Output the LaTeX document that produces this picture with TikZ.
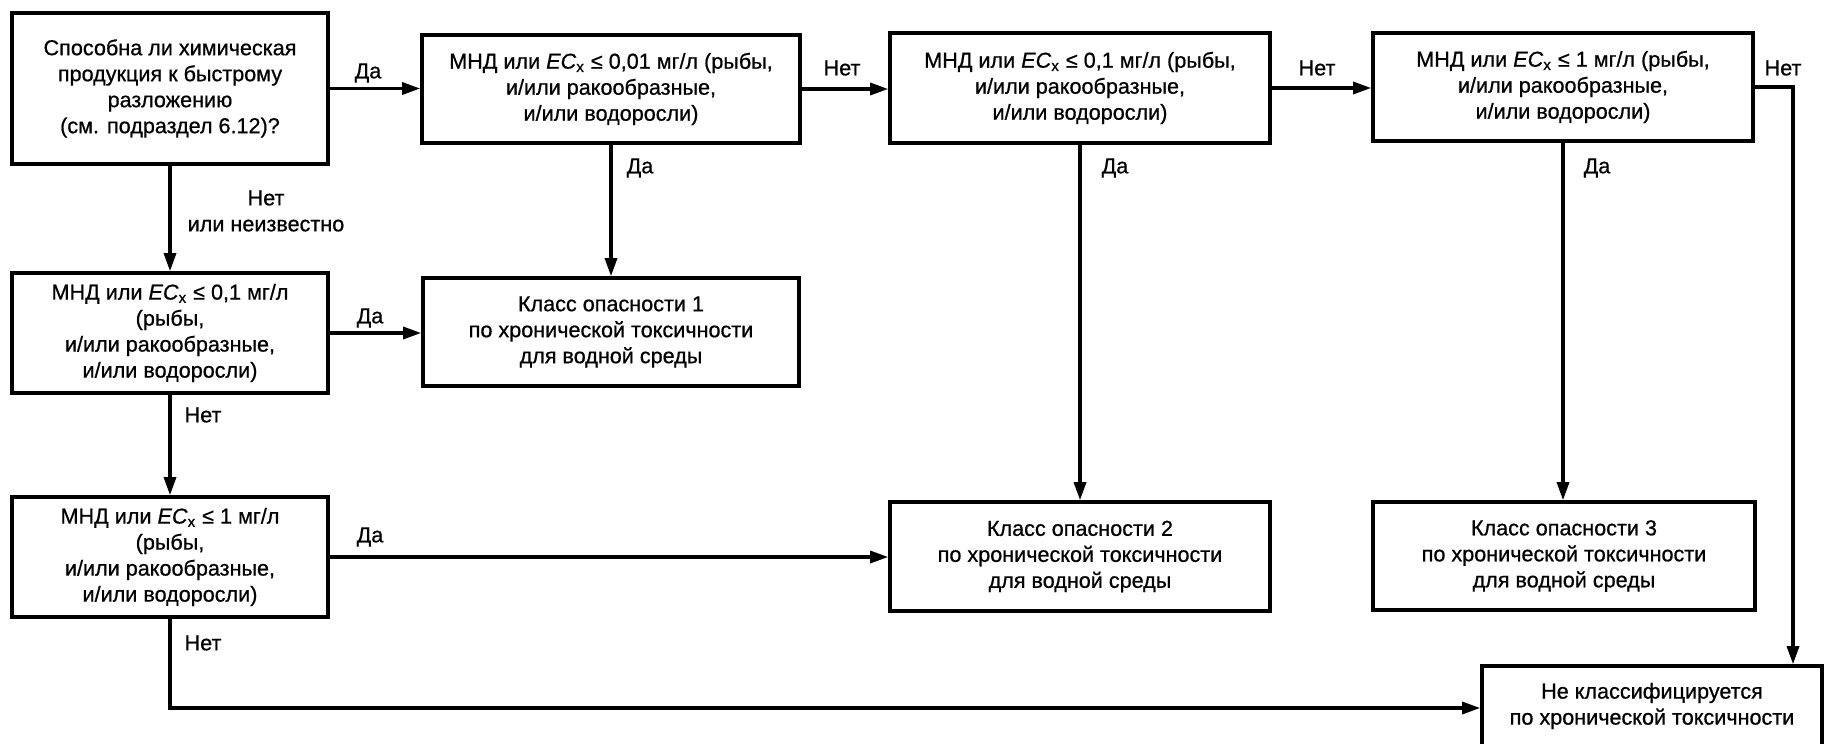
\documentclass[tikz,border=0pt]{standalone}
\usepackage{fontspec}
\setmainfont{Liberation Sans}[
  BoldFont=Liberation Sans, BoldFeatures={FakeBold=0.7},
  BoldItalicFont=Liberation Sans Italic, BoldItalicFeatures={FakeBold=0.7}]
\usetikzlibrary{arrows.meta}

% shorthand for EC with subscript x
\newcommand{\ECx}{\textit{EC}\textsubscript{x}}

\begin{document}
\begin{tikzpicture}[x=0.5pt,y=-0.5pt,
  every node/.style={font=\fontsize{10.8pt}{13pt}\selectfont\bfseries, inner sep=0pt},
  box/.style={draw, line width=1.8pt, align=center},
  lbl/.style={align=center},
  arr/.style={line width=1.6pt, -{Triangle[length=9pt,width=6pt]}},
  ln/.style={line width=1.6pt}]
\useasboundingbox (0,0) rectangle (1827,744);

% decision and result boxes
\node[box, minimum width=158pt, minimum height=75.5pt] (A) at (170,88.5)
  {Способна ли химическая\\продукция к быстрому\\разложению\\(см. подраздел 6.12)?};
\node[box, minimum width=189pt, minimum height=54pt] (B) at (611,89)
  {МНД или \ECx{} ≤ 0,01 мг/л (рыбы,\\и/или ракообразные,\\и/или водоросли)};
\node[box, minimum width=190pt, minimum height=55pt] (C) at (1080,88)
  {МНД или \ECx{} ≤ 0,1 мг/л (рыбы,\\и/или ракообразные,\\и/или водоросли)};
\node[box, minimum width=190pt, minimum height=54pt] (D) at (1563,87)
  {МНД или \ECx{} ≤ 1 мг/л (рыбы,\\и/или ракообразные,\\и/или водоросли)};
\node[box, minimum width=158pt, minimum height=60pt] (E) at (170,333)
  {МНД или \ECx{} ≤ 0,1 мг/л\\(рыбы,\\и/или ракообразные,\\и/или водоросли)};
\node[box, minimum width=188pt, minimum height=54pt] (F) at (611,332)
  {Класс опасности 1\\по хронической токсичности\\для водной среды};
\node[box, minimum width=158pt, minimum height=60pt] (G) at (170,557)
  {МНД или \ECx{} ≤ 1 мг/л\\(рыбы,\\и/или ракообразные,\\и/или водоросли)};
\node[box, minimum width=190pt, minimum height=54.5pt] (K2) at (1080,556.5)
  {Класс опасности 2\\по хронической токсичности\\для водной среды};
\node[box, minimum width=191pt, minimum height=54pt] (K3) at (1564,556)
  {Класс опасности 3\\по хронической токсичности\\для водной среды};
\node[box, minimum width=170pt, minimum height=62pt] (H) at (1652,728) {};
\node[lbl] (Htext) at (1652,706)
  {Не классифицируется\\по хронической токсичности};

% turning points of the bent connectors
\coordinate (dturn) at (1793,87);
\coordinate (gturn) at (170,708);

% connectors
\draw[arr] (A.east) -- (A.east -| B.west);
\draw[arr] (B.east) -- (B.east -| C.west);
\draw[arr] (C.east) -- (C.east -| D.west);
\draw[arr] (D.east) -- (dturn) -- (dturn |- H.north);
\draw[arr] (B.south) -- (B.south |- F.north);
\draw[arr] (C.south) -- (C.south |- K2.north);
\draw[arr] (D.south) -- (D.south |- K3.north);
\draw[arr] (A.south) -- (A.south |- E.north);
\draw[arr] (E.east) -- (E.east -| F.west);
\draw[arr] (E.south) -- (E.south |- G.north);
\draw[arr] (G.east) -- (G.east -| K2.west);
\draw[arr] (G.south) -- (gturn) -- (gturn -| H.west);

% branch labels
\node[lbl] (l1) at (368,73) {Да};
\node[lbl] (l2) at (842,68) {Нет};
\node[lbl] (l3) at (1317,68) {Нет};
\node[lbl] (l4) at (1783,68) {Нет};
\node[lbl] (l5) at (640,168) {Да};
\node[lbl] (l6) at (1115,168) {Да};
\node[lbl] (l7) at (1597,168) {Да};
\node[lbl] (l8) at (266,211) {Нет\\или неизвестно};
\node[lbl] (l9) at (370,318) {Да};
\node[lbl] (l10) at (203,415) {Нет};
\node[lbl] (l11) at (370,537) {Да};
\node[lbl] (l12) at (203,643) {Нет};
\end{tikzpicture}
\end{document}
